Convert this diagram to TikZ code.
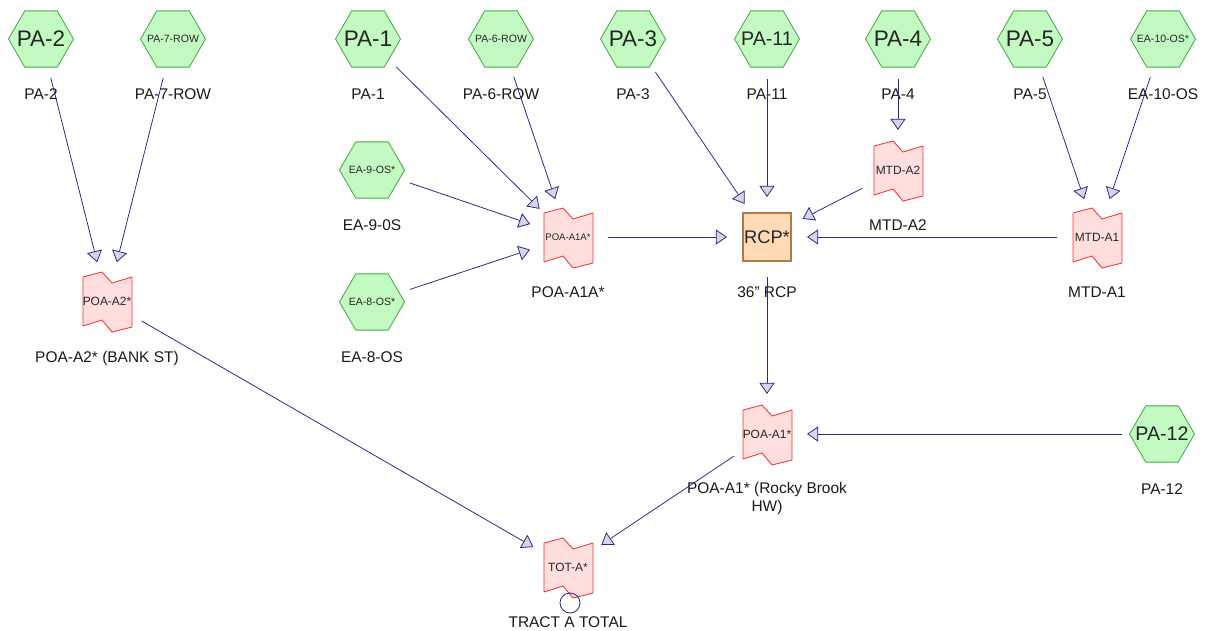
\documentclass[tikz,border=0pt]{standalone}
\usepackage{fontspec}
\setmainfont{Liberation Sans}
\usetikzlibrary{shapes.geometric, arrows.meta}

\definecolor{hexFill}{RGB}{194,250,194}
\definecolor{hexDraw}{RGB}{72,168,72}
\definecolor{reachFill}{RGB}{255,222,222}
\definecolor{reachDraw}{RGB}{240,52,52}
\definecolor{rcpFill}{RGB}{255,218,180}
\definecolor{rcpDraw}{RGB}{176,122,72}
\definecolor{linkBlue}{RGB}{38,38,140}
\definecolor{tipFill}{RGB}{214,214,226}

\begin{document}
\begin{tikzpicture}[
                x=0.025cm, y=-0.025cm,
                % Node Styles
                hexBox/.style = {regular polygon, regular polygon sides=6, minimum size=1.625cm, inner sep=0pt, draw=hexDraw, fill=hexFill, line width=0.6pt},
                hexText/.style = {inner sep=0pt, text=black!85},
                bigHex/.style = {hexBox, label={[hexText, font=\fontsize{16}{16}\selectfont]center:#1}},
                midHex/.style = {hexBox, label={[hexText, font=\fontsize{14}{14}\selectfont]center:#1}},
                smallHex/.style = {hexBox, label={[hexText, font=\fontsize{7.5}{7.5}\selectfont]center:#1}},
                reachLine/.style = {draw=reachDraw, fill=reachFill, line width=0.6pt, line join=round},
                reachText/.style = {inner sep=0pt, text=black!85, font=\fontsize{8.5}{8.5}\selectfont},
                rcpBox/.style = {rectangle, draw=rcpDraw, fill=rcpFill, line width=0.8pt, minimum size=1.2cm, inner sep=0pt, text=black!85, font=\fontsize{13}{13}\selectfont},
                outMark/.style = {circle, draw=linkBlue, line width=0.6pt, minimum size=0.5cm, inner sep=0pt},
                nameText/.style = {yshift=-1.375cm, text=black!90, font=\fontsize{11}{13}\selectfont},
                % Arrow Style
                flowLine/.style = {draw=linkBlue, line width=0.55pt, shorten <=1cm, shorten >=1cm, -{Triangle[length=0.28cm, width=0.38cm, fill=tipFill]}}
            ]
                \useasboundingbox (0,0) rectangle (1206,631);

                % ==========================================
                % SUBBASINS (HEXAGONS)
                % ==========================================
                \node[bigHex=PA-2] (pa2) at (41,39) {};
                \node[smallHex=PA-7-ROW] (pa7) at (173,39) {};
                \node[bigHex=PA-1] (pa1) at (368,39) {};
                \node[smallHex=PA-6-ROW] (pa6) at (501,39) {};
                \node[bigHex=PA-3] (pa3) at (633,39) {};
                \node[midHex=PA-11] (pa11) at (767,39) {};
                \node[bigHex=PA-4] (pa4) at (898,39) {};
                \node[bigHex=PA-5] (pa5) at (1030,39) {};
                \node[smallHex=EA-10-OS*] (ea10) at (1163,39) {};
                \node[smallHex=EA-9-OS*] (ea9) at (372,170) {};
                \node[smallHex=EA-8-OS*] (ea8) at (372,302) {};
                \node[midHex=PA-12] (pa12) at (1162,434) {};

                % ==========================================
                % REACHES (RED OUTLINES)
                % ==========================================
                \foreach \cx/\cy in {107/301, 568/237, 898/170, 1097/237, 767/434, 568/567}
                    \draw[reachLine, shift={(\cx,\cy)}] (-24,-24) -- (-5,-29) -- (5,-18) -- (25,-24)
                        -- (25,26) -- (5,31) -- (-5,19) -- (-24,25) -- cycle;

                \node[reachText] (poaA2) at (107,301) {POA-A2*};
                \node[reachText, font=\fontsize{6.8}{6.8}\selectfont] (poaA1A) at (568,237) {POA-A1A*};
                \node[reachText] (mtdA2) at (898,170) {MTD-A2};
                \node[reachText] (mtdA1) at (1097,237) {MTD-A1};
                \node[reachText] (poaA1) at (767,434) {POA-A1*};
                \node[reachText] (totA) at (568,567) {TOT-A*};
                \node[outMark] (totOut) at (570,603) {};

                % Culvert
                \node[rcpBox] (rcp) at (767,237) {RCP*};

                % ==========================================
                % ELEMENT NAMES
                % ==========================================
                \node[nameText] (pa2L) at (pa2) {PA-2};
                \node[nameText] (pa7L) at (pa7) {PA-7-ROW};
                \node[nameText] (pa1L) at (pa1) {PA-1};
                \node[nameText] (pa6L) at (pa6) {PA-6-ROW};
                \node[nameText] (pa3L) at (pa3) {PA-3};
                \node[nameText] (pa11L) at (pa11) {PA-11};
                \node[nameText] (pa4L) at (pa4) {PA-4};
                \node[nameText] (pa5L) at (pa5) {PA-5};
                \node[nameText] (ea10L) at (ea10) {EA-10-OS};
                \node[nameText] (ea9L) at (ea9) {EA-9-0S};
                \node[nameText] (ea8L) at (ea8) {EA-8-OS};
                \node[nameText] (pa12L) at (pa12) {PA-12};
                \node[nameText, yshift=-0.05cm] (poaA2L) at (poaA2) {POA-A2* (BANK ST)};
                \node[nameText] (poaA1AL) at (poaA1A) {POA-A1A*};
                \node[nameText] (mtdA2L) at (mtdA2) {MTD-A2};
                \node[nameText] (mtdA1L) at (mtdA1) {MTD-A1};
                \node[nameText] (rcpL) at (rcp) {36" RCP};
                \node[nameText, align=center, yshift=-0.24cm] (poaA1L) at (poaA1) {POA-A1* (Rocky Brook\\HW)};
                \node[nameText] (totAL) at (totA) {TRACT A TOTAL};

                % ==========================================
                % FLOW ROUTING
                % ==========================================
                \draw[flowLine] (pa2.center) -- (poaA2.center);
                \draw[flowLine] (pa7.center) -- (poaA2.center);
                \draw[flowLine] (pa1.center) -- (poaA1A.center);
                \draw[flowLine] (pa6.center) -- (poaA1A.center);
                \draw[flowLine] (ea9.center) -- (poaA1A.center);
                \draw[flowLine] (ea8.center) -- (poaA1A.center);
                \draw[flowLine] (poaA1A.center) -- (rcp.center);
                \draw[flowLine] (pa3.center) -- (rcp.center);
                \draw[flowLine] (pa11.center) -- (rcp.center);
                \draw[flowLine] (pa4.center) -- (mtdA2.center);
                \draw[flowLine] (mtdA2.center) -- (rcp.center);
                \draw[flowLine] (mtdA1.center) -- (rcp.center);
                \draw[flowLine] (pa5.center) -- (mtdA1.center);
                \draw[flowLine] (ea10.center) -- (mtdA1.center);
                \draw[flowLine] (rcp.center) -- (poaA1.center);
                \draw[flowLine] (pa12.center) -- (poaA1.center);
                \draw[flowLine] (poaA1.center) -- (totA.center);
                \draw[flowLine] (poaA2.center) -- (totA.center);

            \end{tikzpicture}
\end{document}
